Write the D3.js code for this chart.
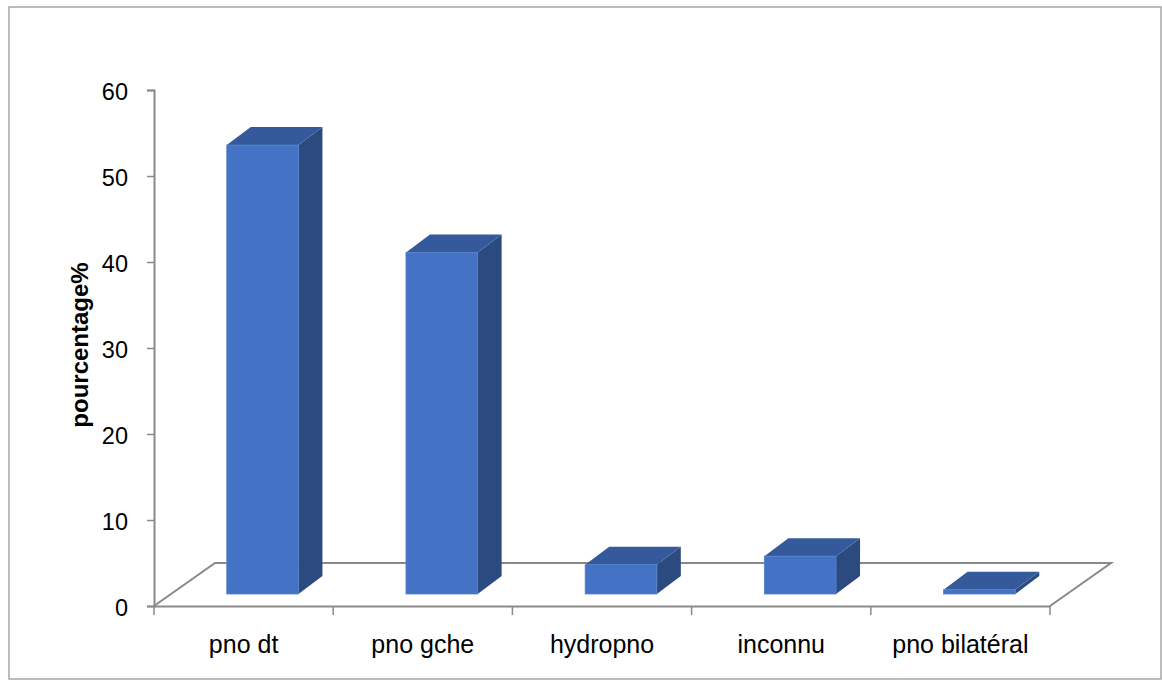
<!DOCTYPE html>
<html>
<head>
<meta charset="utf-8">
<script src="https://cdn.jsdelivr.net/npm/d3@7"></script>
<style>
  html, body { margin: 0; padding: 0; background: #fff; }
  svg { display: block; font-family: "Liberation Sans", Arial, sans-serif; }
</style>
</head>
<body>
<svg id="chart" width="1162" height="680"></svg>
<script>
// Chart data
const categories = ["pno dt", "pno gche", "hydropno", "inconnu", "pno bilatéral"];
const values = [52.2, 39.7, 3.4, 4.4, 0.5];
const yTicks = [0, 10, 20, 30, 40, 50, 60];
const yTitle = "pourcentage%";

const svg = d3.select("#chart");

// Outer chart frame
svg.append("rect")
  .attr("x", 9).attr("y", 7).attr("width", 1152).attr("height", 672)
  .attr("fill", "#fff").attr("stroke", "#a6a6a6").attr("stroke-width", 1.5);

// Plot geometry (front plane of the 3D floor)
const x0 = 154, x1 = 1050;
const floorDepth = [61, -43];       // floor depth vector
const barShift = [19, -12];         // front plane of the bars inside the floor
const barDepth = [24, -18];         // depth of each bar

const x = d3.scaleBand().domain(categories).range([x0, x1]).paddingInner(0).paddingOuter(0);
const y = d3.scaleLinear().domain([0, 60]).range([606, 90]);
const barW = x.bandwidth() * 0.4;

const axisColor = "#898989";

// Floor
const fy = y(0);
svg.append("path")
  .attr("d", `M${x0},${fy} L${x0 + floorDepth[0]},${fy + floorDepth[1]} L${x1 + floorDepth[0]},${fy + floorDepth[1]} L${x1},${fy}`)
  .attr("fill", "none").attr("stroke", axisColor).attr("stroke-width", 2);

// 3D bars
const bars = svg.append("g");
categories.forEach((c, i) => {
  const v = values[i];
  const cx = x(c) + x.bandwidth() / 2 + barShift[0];
  const left = cx - barW / 2, right = cx + barW / 2;
  const base = y(0) + barShift[1];
  const top = y(v) + barShift[1];
  const [dx, dy] = barDepth;
  const g = bars.append("g");
  // side face
  g.append("path")
    .attr("d", `M${right},${base} L${right + dx},${base + dy} L${right + dx},${top + dy} L${right},${top} Z`)
    .attr("fill", "#2b4a80");
  // top face
  g.append("path")
    .attr("d", `M${left},${top} L${left + dx},${top + dy} L${right + dx},${top + dy} L${right},${top} Z`)
    .attr("fill", "#345a9b");
  // front face
  g.append("rect")
    .attr("x", left).attr("y", top).attr("width", barW).attr("height", base - top)
    .attr("fill", "#4472c4")
    .attr("stroke", "#5580cc").attr("stroke-width", 0.8);
});

// Value axis
const yAxis = svg.append("g").attr("transform", `translate(${x0},0)`)
  .call(d3.axisLeft(y).tickValues(yTicks).tickSize(7).tickPadding(19).tickFormat(d3.format("d")));
yAxis.select(".domain").attr("stroke", axisColor).attr("stroke-width", 2);
yAxis.selectAll(".tick line").attr("stroke", axisColor).attr("stroke-width", 1.5);
yAxis.selectAll(".tick text")
  .attr("fill", "#000").attr("font-size", 23.5)
  .attr("font-family", "Liberation Sans, Arial, sans-serif")
  .attr("dy", "0.4em");

// Category axis
const xAxis = svg.append("g").attr("transform", `translate(0,${fy})`)
  .call(d3.axisBottom(x).tickSize(0).tickPadding(29));
xAxis.select(".domain").attr("stroke", axisColor).attr("stroke-width", 2);
xAxis.selectAll(".tick text")
  .attr("fill", "#000").attr("font-size", 25)
  .attr("font-family", "Liberation Sans, Arial, sans-serif");
// Category boundary ticks
const bounds = d3.range(categories.length + 1).map(i => x0 + i * x.step());
xAxis.selectAll(".bound").data(bounds).enter().append("line")
  .attr("class", "bound")
  .attr("x1", d => d).attr("x2", d => d).attr("y1", 0).attr("y2", 9)
  .attr("stroke", axisColor).attr("stroke-width", 1.5);

// Value axis title
svg.append("text")
  .attr("transform", "translate(88,345) rotate(-90)")
  .attr("text-anchor", "middle")
  .attr("font-size", 24).attr("font-weight", "bold")
  .attr("fill", "#000")
  .text(yTitle);
</script>
</body>
</html>
